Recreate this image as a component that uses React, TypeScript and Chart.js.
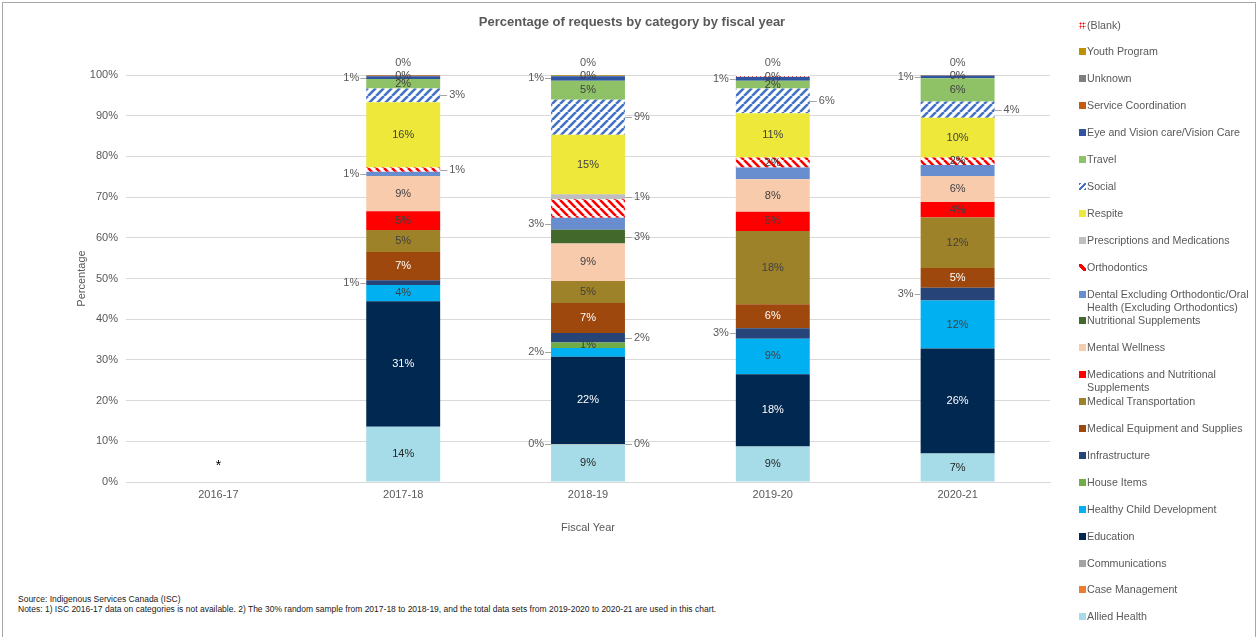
import React, { useEffect, useRef } from 'react';
import { Chart, registerables } from 'chart.js';

Chart.register(...registerables);

const FONT = '"Liberation Sans", Arial, Helvetica, sans-serif';

const CHART_TITLE = 'Percentage of requests by category by fiscal year';
const X_TITLE = 'Fiscal Year';
const Y_TITLE = 'Percentage';
const FISCAL_YEARS = ['2016-17', '2017-18', '2018-19', '2019-20', '2020-21'];
const NO_DATA_MARK = '*';
const NO_DATA_INDEX = 0;
const NO_DATA_LEVEL = 4;
const SOURCE_NOTE = 'Source: Indigenous Services Canada (ISC)';
const NOTES = 'Notes: 1) ISC 2016-17 data on categories is not available. 2) The 30% random sample from 2017-18 to 2018-19, and the total data sets from 2019-2020 to 2020-21 are used in this chart.';

// Series values (percent), order: 2016-17, 2017-18, 2018-19, 2019-20, 2020-21
const ALLIED_HEALTH = [null, 13.6, 9.2, 8.7, 7.0];
const CASE_MANAGEMENT = [null, 0, 0.05, 0, 0];
const COMMUNICATIONS = [null, 0, 0.05, 0, 0];
const EDUCATION = [null, 30.8, 21.5, 17.8, 25.8];
const HEALTHY_CHILD_DEVELOPMENT = [null, 4.0, 2.1, 8.7, 11.8];
const HOUSE_ITEMS = [null, 0, 1.4, 0, 0];
const INFRASTRUCTURE = [null, 1.2, 2.3, 2.6, 3.1];
const MEDICAL_EQUIPMENT = [null, 6.9, 7.4, 5.9, 4.9];
const MEDICAL_TRANSPORTATION = [null, 5.4, 5.4, 18.0, 12.4];
const MEDICATIONS_NUTRITIONAL = [null, 4.6, 0, 4.7, 3.8];
const MENTAL_WELLNESS = [null, 8.7, 9.2, 8.0, 6.4];
const NUTRITIONAL_SUPPLEMENTS = [null, 0, 3.4, 0, 0];
const DENTAL = [null, 1.0, 2.9, 2.9, 2.7];
const ORTHODONTICS = [null, 1.1, 4.6, 2.4, 1.8];
const PRESCRIPTIONS = [null, 0, 1.2, 0, 0];
const RESPITE = [null, 16.0, 14.6, 10.9, 9.8];
const SOCIAL = [null, 3.4, 8.6, 6.1, 4.0];
const TRAVEL = [null, 2.3, 4.7, 1.9, 5.7];
const EYE_VISION = [null, 0.7, 1.1, 0.9, 0.6];
const SERVICE_COORDINATION = [null, 0.2, 0, 0, 0.1];
const UNKNOWN = [null, 0.1, 0.1, 0.1, 0.1];
const YOUTH_PROGRAM = [null, 0, 0.2, 0, 0];
const BLANK = [null, 0, 0, 0.4, 0];

type Fill = string | { pattern: 'up' | 'down' | 'dots'; color: string };
type Series = { name: string; values: (number | null)[]; fill: Fill; text: string; labels: string[] };

const DARK = '#404040';
const LIGHT = '#FFFFFF';

const SERIES: Series[] = [
  { name: 'Allied Health', values: ALLIED_HEALTH, fill: '#A6DCE8', text: '#262626', labels: ['', 'in', 'in', 'in', 'in'] },
  { name: 'Case Management', values: CASE_MANAGEMENT, fill: '#ED7D31', text: DARK, labels: ['', '', 'L', '', ''] },
  { name: 'Communications', values: COMMUNICATIONS, fill: '#A5A5A5', text: DARK, labels: ['', '', 'R', '', ''] },
  { name: 'Education', values: EDUCATION, fill: '#002851', text: LIGHT, labels: ['', 'in', 'in', 'in', 'in'] },
  { name: 'Healthy Child Development', values: HEALTHY_CHILD_DEVELOPMENT, fill: '#00B0F0', text: DARK, labels: ['', 'in', 'L', 'in', 'in'] },
  { name: 'House Items', values: HOUSE_ITEMS, fill: '#70AD47', text: DARK, labels: ['', '', 'in', '', ''] },
  { name: 'Infrastructure', values: INFRASTRUCTURE, fill: '#264478', text: LIGHT, labels: ['', 'L', 'R', 'L', 'L'] },
  { name: 'Medical Equipment and Supplies', values: MEDICAL_EQUIPMENT, fill: '#9E480E', text: LIGHT, labels: ['', 'in', 'in', 'in', 'in'] },
  { name: 'Medical Transportation', values: MEDICAL_TRANSPORTATION, fill: '#9E822A', text: DARK, labels: ['', 'in', 'in', 'in', 'in'] },
  { name: 'Medications and Nutritional Supplements', values: MEDICATIONS_NUTRITIONAL, fill: '#FF0000', text: DARK, labels: ['', 'in', '', 'in', 'in'] },
  { name: 'Mental Wellness', values: MENTAL_WELLNESS, fill: '#F8CBAD', text: DARK, labels: ['', 'in', 'in', 'in', 'in'] },
  { name: 'Nutritional Supplements', values: NUTRITIONAL_SUPPLEMENTS, fill: '#43682B', text: LIGHT, labels: ['', '', 'R', '', ''] },
  { name: 'Dental Excluding Orthodontic/Oral Health (Excluding Orthodontics)', values: DENTAL, fill: '#698ED0', text: DARK, labels: ['', 'L', 'L', '', ''] },
  { name: 'Orthodontics', values: ORTHODONTICS, fill: { pattern: 'down', color: '#FF0000' }, text: DARK, labels: ['', 'R', '', 'in', 'in'] },
  { name: 'Prescriptions and Medications', values: PRESCRIPTIONS, fill: '#BFBFBF', text: DARK, labels: ['', '', 'R', '', ''] },
  { name: 'Respite', values: RESPITE, fill: '#EDE83A', text: DARK, labels: ['', 'in', 'in', 'in', 'in'] },
  { name: 'Social', values: SOCIAL, fill: { pattern: 'up', color: '#4472C4' }, text: DARK, labels: ['', 'R', 'R', 'R', 'R'] },
  { name: 'Travel', values: TRAVEL, fill: '#8FC167', text: DARK, labels: ['', 'in', 'in', 'in', 'in'] },
  { name: 'Eye and Vision care/Vision Care', values: EYE_VISION, fill: '#2F55A2', text: LIGHT, labels: ['', 'L', 'L', 'L', 'L'] },
  { name: 'Service Coordination', values: SERVICE_COORDINATION, fill: '#C55A11', text: DARK, labels: ['', 'in', '', '', 'in'] },
  { name: 'Unknown', values: UNKNOWN, fill: '#7F7F7F', text: DARK, labels: ['', 'T', 'in', 'in', 'T'] },
  { name: 'Youth Program', values: YOUTH_PROGRAM, fill: '#BF9000', text: DARK, labels: ['', '', 'T', '', ''] },
  { name: '(Blank)', values: BLANK, fill: { pattern: 'dots', color: '#FF0000' }, text: DARK, labels: ['', '', '', 'T', ''] },
];

function makePattern(kind: 'up' | 'down' | 'dots', color: string): CanvasPattern | string {
  const c = document.createElement('canvas');
  const size = kind === 'dots' ? 4 : 8;
  c.width = size;
  c.height = size;
  const g = c.getContext('2d');
  if (!g) return color;
  g.fillStyle = '#FFFFFF';
  g.fillRect(0, 0, size, size);
  if (kind === 'dots') {
    g.fillStyle = color;
    g.fillRect(0, 0, 1, 1);
    g.fillRect(2, 2, 1, 1);
  } else {
    g.strokeStyle = color;
    g.lineWidth = 2.6;
    g.beginPath();
    for (const o of [-8, 0, 8]) {
      if (kind === 'up') {
        g.moveTo(o, 8);
        g.lineTo(o + 8, 0);
      } else {
        g.moveTo(o, 0);
        g.lineTo(o + 8, 8);
      }
    }
    g.stroke();
  }
  return g.createPattern(c, 'repeat') || color;
}

function swatchStyle(fill: Fill): React.CSSProperties {
  const base: React.CSSProperties = { width: 7, height: 7, flex: '0 0 7px', marginTop: 3, marginRight: 1 };
  if (typeof fill === 'string') return { ...base, background: fill };
  if (fill.pattern === 'up') return { ...base, background: `repeating-linear-gradient(135deg, ${fill.color} 0 2px, #fff 2px 4px)` };
  if (fill.pattern === 'down') return { ...base, background: `linear-gradient(45deg, #fff 0 35%, ${fill.color} 35% 65%, #fff 65% 100%)` };
  return { ...base, backgroundColor: '#fff', backgroundImage: `radial-gradient(${fill.color} 0.9px, transparent 1.1px)`, backgroundSize: '3px 3px' };
}

const labelPlugin = {
  id: 'segmentLabels',
  afterDatasetsDraw(chart: any) {
    const c: CanvasRenderingContext2D = chart.ctx;
    c.save();
    c.font = `11px ${FONT}`;
    c.textBaseline = 'middle';
    c.lineWidth = 1;
    c.strokeStyle = '#A6A6A6';
    SERIES.forEach((s, i) => {
      const meta = chart.getDatasetMeta(i);
      meta.data.forEach((el: any, j: number) => {
        const mode = s.labels[j];
        const v = s.values[j];
        if (!mode || v == null) return;
        const p = el.getProps(['x', 'y', 'base', 'width'], true);
        const mid = (p.y + p.base) / 2;
        const left = p.x - p.width / 2;
        const right = p.x + p.width / 2;
        const txt = Math.round(v) + '%';
        if (mode === 'in') {
          c.fillStyle = s.text;
          c.textAlign = 'center';
          c.fillText(txt, p.x, mid);
        } else if (mode === 'L') {
          c.beginPath();
          c.moveTo(left - 6, Math.round(mid) + 0.5);
          c.lineTo(left, Math.round(mid) + 0.5);
          c.stroke();
          c.fillStyle = '#595959';
          c.textAlign = 'right';
          c.fillText(txt, left - 7, mid);
        } else if (mode === 'R') {
          c.beginPath();
          c.moveTo(right, Math.round(mid) + 0.5);
          c.lineTo(right + 7, Math.round(mid) + 0.5);
          c.stroke();
          c.fillStyle = '#595959';
          c.textAlign = 'left';
          c.fillText(txt, right + 9, mid);
        } else if (mode === 'T') {
          c.fillStyle = '#595959';
          c.textAlign = 'center';
          c.fillText(txt, p.x, Math.min(p.y, p.base) - 12);
        }
      });
    });
    const xs = chart.scales.x;
    const ys = chart.scales.y;
    c.fillStyle = '#000000';
    c.font = `14px ${FONT}`;
    c.textAlign = 'center';
    c.fillText(NO_DATA_MARK, xs.getPixelForValue(NO_DATA_INDEX), ys.getPixelForValue(NO_DATA_LEVEL));
    c.restore();
  },
};

export default function App() {
  const ref = useRef<HTMLCanvasElement>(null);

  useEffect(() => {
    document.body.style.margin = '0';
    document.body.style.background = '#FFFFFF';
    const canvas = ref.current;
    if (!canvas) return;
    const datasets = SERIES.map((s) => ({
      label: s.name,
      data: s.values,
      backgroundColor: typeof s.fill === 'string' ? s.fill : makePattern(s.fill.pattern, s.fill.color),
      borderWidth: 0,
      barPercentage: 0.4,
      categoryPercentage: 1,
    }));
    const chart = new Chart(canvas, {
      type: 'bar',
      data: { labels: FISCAL_YEARS, datasets: datasets as any },
      options: {
        responsive: false,
        animation: false,
        layout: { padding: { left: 70, right: 126, top: 75, bottom: 8 } },
        plugins: {
          legend: { display: false },
          tooltip: { enabled: false },
          title: { display: false },
        },
        scales: {
          x: {
            stacked: true,
            grid: { display: false, drawTicks: false },
            border: { display: true, color: '#D9D9D9' },
            ticks: { color: '#595959', font: { family: FONT, size: 11 }, padding: 6 },
            title: { display: true, text: X_TITLE, color: '#595959', font: { family: FONT, size: 11 }, padding: { top: 4, bottom: 2 } },
            afterFit: (scale: any) => { scale.height = 55; },
          },
          y: {
            stacked: true,
            min: 0,
            max: 100,
            grid: { color: '#D9D9D9', drawTicks: false },
            border: { display: false },
            ticks: {
              stepSize: 10,
              color: '#595959',
              font: { family: FONT, size: 11 },
              padding: 8,
              callback: (v: any) => v + '%',
            },
            title: { display: true, text: Y_TITLE, color: '#595959', font: { family: FONT, size: 11 }, padding: { top: 5, bottom: 4 } },
            afterFit: (scale: any) => { scale.width = 56; },
          },
        },
      } as any,
      plugins: [labelPlugin],
    });
    return () => chart.destroy();
  }, []);

  const legendItems = [...SERIES].reverse();

  return (
    <div style={{ position: 'relative', width: 1257, height: 637, overflow: 'hidden', background: '#fff', fontFamily: FONT }}>
      <div style={{ position: 'absolute', left: 2, top: 2, width: 1252, height: 660, border: '1px solid #A6A6A6' }} />
      <canvas ref={ref} width={1176} height={545} style={{ position: 'absolute', left: 0, top: 0, width: 1176, height: 545 }} />
      <div
        style={{
          position: 'absolute',
          left: 0,
          top: 14,
          width: 1264,
          textAlign: 'center',
          fontSize: 13,
          lineHeight: '16px',
          fontWeight: 'bold',
          color: '#595959',
        }}
      >
        {CHART_TITLE}
      </div>
      <div style={{ position: 'absolute', left: 0, top: 0 }}>
        {legendItems.map((s, i) => (
          <div
            key={s.name}
            style={{
              position: 'absolute',
              left: 1079,
              top: 25 + i * 26.9 - 6.5,
              width: 172,
              display: 'flex',
              alignItems: 'flex-start',
              fontSize: 10.7,
              lineHeight: '13px',
              color: '#595959',
            }}
          >
            <span style={swatchStyle(s.fill)} />
            <span>{s.name}</span>
          </div>
        ))}
      </div>
      <div style={{ position: 'absolute', left: 18, top: 594, fontSize: 8.5, lineHeight: '10px', color: '#1a1a1a', whiteSpace: 'nowrap' }}>
        <div>{SOURCE_NOTE}</div>
        <div>{NOTES}</div>
      </div>
    </div>
  );
}
